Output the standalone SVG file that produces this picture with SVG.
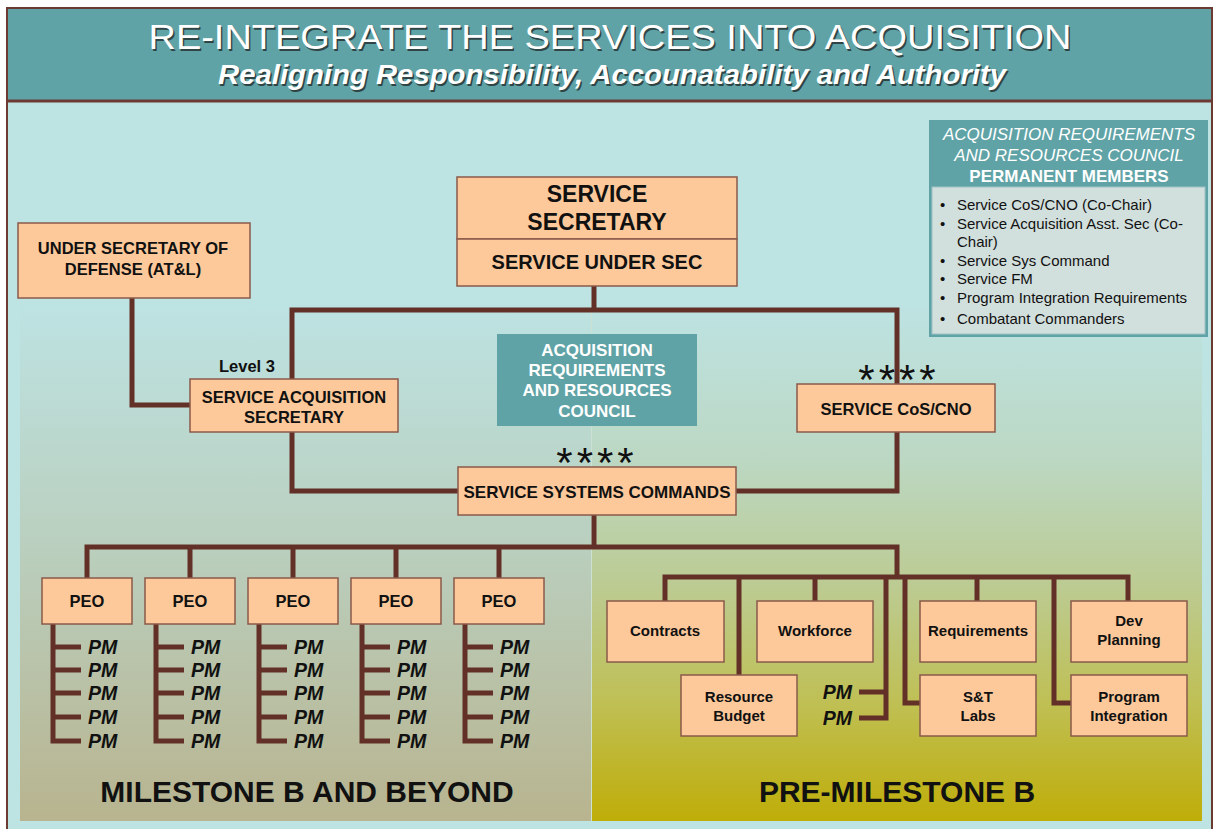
<svg xmlns="http://www.w3.org/2000/svg" width="1218" height="829" viewBox="0 0 1218 829">
<defs>
<linearGradient id="gl" x1="0" y1="0" x2="0" y2="1">
<stop offset="0" stop-color="#bde3e3"/>
<stop offset="0.45" stop-color="#bad0c0"/>
<stop offset="1" stop-color="#b8b48f"/>
</linearGradient>
<linearGradient id="gr" x1="0" y1="0" x2="0" y2="1">
<stop offset="0" stop-color="#bde3e3"/>
<stop offset="0.3" stop-color="#bcd8c4"/>
<stop offset="0.55" stop-color="#bccb92"/>
<stop offset="0.78" stop-color="#bfbf52"/>
<stop offset="1" stop-color="#bfad08"/>
</linearGradient>
<style>
.n{fill:#fdc99a;stroke:#8a5a4a;stroke-width:1.5}
.t{font-family:"Liberation Sans",Arial,sans-serif;font-weight:bold;fill:#111;text-anchor:middle}
.pm{font-family:"Liberation Sans",Arial,sans-serif;font-weight:bold;font-style:italic;fill:#111;font-size:19.5px}
.c{fill:none;stroke:#633028;stroke-width:5;stroke-linejoin:miter;stroke-linecap:butt}
.w{font-family:"Liberation Sans",Arial,sans-serif;fill:#fff;text-anchor:middle}
.b{font-family:"Liberation Sans",Arial,sans-serif;fill:#111;font-size:15px}
.star{font-family:"Liberation Sans",Arial,sans-serif;fill:#111;font-size:42px;letter-spacing:4px;text-anchor:middle}
</style>
</defs>
<!-- background -->
<rect x="0" y="0" width="1218" height="829" fill="#ffffff"/>
<rect x="7" y="8" width="1205" height="840" fill="#bde3e3" stroke="#6b3a33" stroke-width="2"/>
<rect x="8" y="9" width="1203" height="91" fill="#5fa3a6"/>
<line x1="7" y1="101" x2="1212" y2="101" stroke="#6b3a33" stroke-width="3"/>
<rect x="20" y="300" width="571" height="521" fill="url(#gl)"/>
<rect x="592" y="300" width="610" height="521" fill="url(#gr)"/>
<line x1="591.5" y1="300" x2="591.5" y2="821" stroke="#d8e0c8" stroke-width="1" opacity="0.6"/>
<!-- title -->
<g id="title">
<text x="611.5" y="50.5" font-family="Liberation Sans,Arial,sans-serif" font-size="35" fill="#2f4545" text-anchor="middle" textLength="923" lengthAdjust="spacingAndGlyphs">RE-INTEGRATE THE SERVICES INTO ACQUISITION</text>
<text x="610" y="49" class="w" font-size="35" textLength="923" lengthAdjust="spacingAndGlyphs">RE-INTEGRATE THE SERVICES INTO ACQUISITION</text>
<text x="613.5" y="85.5" font-family="Liberation Sans,Arial,sans-serif" font-size="27" font-weight="bold" font-style="italic" fill="#2f4545" text-anchor="middle" textLength="788" lengthAdjust="spacingAndGlyphs">Realigning Responsibility, Accounatability and Authority</text>
<text x="612" y="84" class="w" font-size="27" font-weight="bold" font-style="italic" textLength="788" lengthAdjust="spacingAndGlyphs">Realigning Responsibility, Accounatability and Authority</text>
</g>
<!-- connectors -->
<g id="connectors">
<path class="c" d="M132 298 V405 H190"/>
<path class="c" d="M594 286 V310"/>
<path class="c" d="M292 379 V310 H897 V384"/>
<path class="c" d="M292 432 V491 H458"/>
<path class="c" d="M897 432 V491 H736"/>
<path class="c" d="M594 515 V547"/>
<path class="c" d="M87 578 V547 H897 V577"/>
<path class="c" d="M190 547 V578 M293 547 V578 M396 547 V578 M499 547 V578"/>
<path class="c" d="M53 624 V741 H81 M53 647 H81 M53 670 H81 M53 693 H81 M53 717 H81"/>
<path class="c" d="M156 624 V741 H184 M156 647 H184 M156 670 H184 M156 693 H184 M156 717 H184"/>
<path class="c" d="M259 624 V741 H287 M259 647 H287 M259 670 H287 M259 693 H287 M259 717 H287"/>
<path class="c" d="M362 624 V741 H390 M362 647 H390 M362 670 H390 M362 693 H390 M362 717 H390"/>
<path class="c" d="M465 624 V741 H493 M465 647 H493 M465 670 H493 M465 693 H493 M465 717 H493"/>
<path class="c" d="M665 601 V577 H1128 V601"/>
<path class="c" d="M815 577 V601 M977 577 V601 M739 577 V675"/>
<path class="c" d="M886 577 V718 H859 M886 692 H859"/>
<path class="c" d="M905 577 V703 H920"/>
<path class="c" d="M1054 577 V703 H1071"/>
</g>
<!-- nodes -->
<g id="usd">
<rect class="n" x="18" y="223" width="232" height="75"/>
<text class="t" x="133" y="254" font-size="16.5">UNDER SECRETARY OF</text>
<text class="t" x="133" y="275" font-size="16.5">DEFENSE (AT&amp;L)</text>
</g>
<g id="service-secretary">
<rect class="n" x="457" y="177" width="280" height="62"/>
<rect class="n" x="457" y="239" width="280" height="47"/>
<text class="t" x="597" y="202" font-size="23">SERVICE</text>
<text class="t" x="597" y="230" font-size="23">SECRETARY</text>
<text class="t" x="597" y="269" font-size="20">SERVICE UNDER SEC</text>
</g>
<g id="sas">
<text class="t" x="247" y="372" font-size="16.5">Level 3</text>
<rect class="n" x="190" y="379" width="208" height="53"/>
<text class="t" x="294" y="403" font-size="16.5">SERVICE ACQUISITION</text>
<text class="t" x="294" y="423" font-size="16.5">SECRETARY</text>
</g>
<g id="arrc">
<rect x="497" y="334" width="200" height="92" fill="#5fa3a6"/>
<text class="w" x="597" y="356" font-size="17" font-weight="bold">ACQUISITION</text>
<text class="w" x="597" y="376" font-size="17" font-weight="bold">REQUIREMENTS</text>
<text class="w" x="597" y="396" font-size="17" font-weight="bold">AND RESOURCES</text>
<text class="w" x="597" y="417" font-size="17" font-weight="bold">COUNCIL</text>
</g>
<g id="cos">
<text class="star" x="899" y="394">****</text>
<rect class="n" x="797" y="384" width="198" height="48"/>
<text class="t" x="896" y="415" font-size="16.5">SERVICE CoS/CNO</text>
</g>
<g id="ssc">
<text class="star" x="597" y="477">****</text>
<rect class="n" x="458" y="467" width="278" height="48"/>
<text class="t" x="597" y="498" font-size="17">SERVICE SYSTEMS COMMANDS</text>
</g>
<g id="peo1"><rect class="n" x="42" y="578" width="90" height="46"/><text class="t" x="87" y="607" font-size="16.5">PEO</text>
<text class="pm" x="88" y="654">PM</text><text class="pm" x="88" y="677">PM</text><text class="pm" x="88" y="700">PM</text><text class="pm" x="88" y="724">PM</text><text class="pm" x="88" y="748">PM</text></g>
<g id="peo2"><rect class="n" x="145" y="578" width="90" height="46"/><text class="t" x="190" y="607" font-size="16.5">PEO</text>
<text class="pm" x="191" y="654">PM</text><text class="pm" x="191" y="677">PM</text><text class="pm" x="191" y="700">PM</text><text class="pm" x="191" y="724">PM</text><text class="pm" x="191" y="748">PM</text></g>
<g id="peo3"><rect class="n" x="248" y="578" width="90" height="46"/><text class="t" x="293" y="607" font-size="16.5">PEO</text>
<text class="pm" x="294" y="654">PM</text><text class="pm" x="294" y="677">PM</text><text class="pm" x="294" y="700">PM</text><text class="pm" x="294" y="724">PM</text><text class="pm" x="294" y="748">PM</text></g>
<g id="peo4"><rect class="n" x="351" y="578" width="90" height="46"/><text class="t" x="396" y="607" font-size="16.5">PEO</text>
<text class="pm" x="397" y="654">PM</text><text class="pm" x="397" y="677">PM</text><text class="pm" x="397" y="700">PM</text><text class="pm" x="397" y="724">PM</text><text class="pm" x="397" y="748">PM</text></g>
<g id="peo5"><rect class="n" x="454" y="578" width="90" height="46"/><text class="t" x="499" y="607" font-size="16.5">PEO</text>
<text class="pm" x="500" y="654">PM</text><text class="pm" x="500" y="677">PM</text><text class="pm" x="500" y="700">PM</text><text class="pm" x="500" y="724">PM</text><text class="pm" x="500" y="748">PM</text></g>
<g id="contracts"><rect class="n" x="607" y="601" width="117" height="61"/><text class="t" x="665" y="636" font-size="15">Contracts</text></g>
<g id="workforce"><rect class="n" x="757" y="601" width="116" height="61"/><text class="t" x="815" y="636" font-size="15">Workforce</text></g>
<g id="requirements"><rect class="n" x="920" y="601" width="116" height="61"/><text class="t" x="978" y="636" font-size="15">Requirements</text></g>
<g id="dev-planning"><rect class="n" x="1071" y="601" width="116" height="61"/><text class="t" x="1129" y="626" font-size="15">Dev</text><text class="t" x="1129" y="645" font-size="15">Planning</text></g>
<g id="resource-budget"><rect class="n" x="681" y="675" width="116" height="61"/><text class="t" x="739" y="702" font-size="15">Resource</text><text class="t" x="739" y="721" font-size="15">Budget</text></g>
<g id="pm-right"><text class="pm" x="852" y="699" font-size="20" text-anchor="end">PM</text><text class="pm" x="852" y="725" font-size="20" text-anchor="end">PM</text></g>
<g id="st-labs"><rect class="n" x="920" y="675" width="116" height="61"/><text class="t" x="978" y="702" font-size="15">S&amp;T</text><text class="t" x="978" y="721" font-size="15">Labs</text></g>
<g id="program-integration"><rect class="n" x="1071" y="675" width="116" height="61"/><text class="t" x="1129" y="702" font-size="15">Program</text><text class="t" x="1129" y="721" font-size="15">Integration</text></g>
<!-- legend -->
<g id="legend">
<rect x="929" y="120" width="279" height="217" fill="#5fa3a6"/>
<rect x="932" y="187" width="273" height="147" fill="#d1dfdd" stroke="#9fc3c3" stroke-width="1"/>
<text class="w" x="1069" y="140" font-size="17" font-style="italic">ACQUISITION REQUIREMENTS</text>
<text class="w" x="1069" y="161" font-size="17" font-style="italic">AND RESOURCES COUNCIL</text>
<text class="w" x="1069" y="182" font-size="17" font-weight="bold">PERMANENT MEMBERS</text>
<text class="b" x="940" y="210">•</text><text class="b" x="957" y="210">Service CoS/CNO (Co-Chair)</text>
<text class="b" x="940" y="229">•</text><text class="b" x="957" y="229">Service Acquisition Asst. Sec (Co-</text>
<text class="b" x="957" y="247">Chair)</text>
<text class="b" x="940" y="266">•</text><text class="b" x="957" y="266">Service Sys Command</text>
<text class="b" x="940" y="284">•</text><text class="b" x="957" y="284">Service FM</text>
<text class="b" x="940" y="303">•</text><text class="b" x="957" y="303">Program Integration Requirements</text>
<text class="b" x="940" y="324">•</text><text class="b" x="957" y="324">Combatant Commanders</text>
</g>
<g id="panel-labels">
<text class="t" x="307" y="802" font-size="30">MILESTONE B AND BEYOND</text>
<text class="t" x="897" y="802" font-size="30">PRE-MILESTONE B</text>
</g>
</svg>
